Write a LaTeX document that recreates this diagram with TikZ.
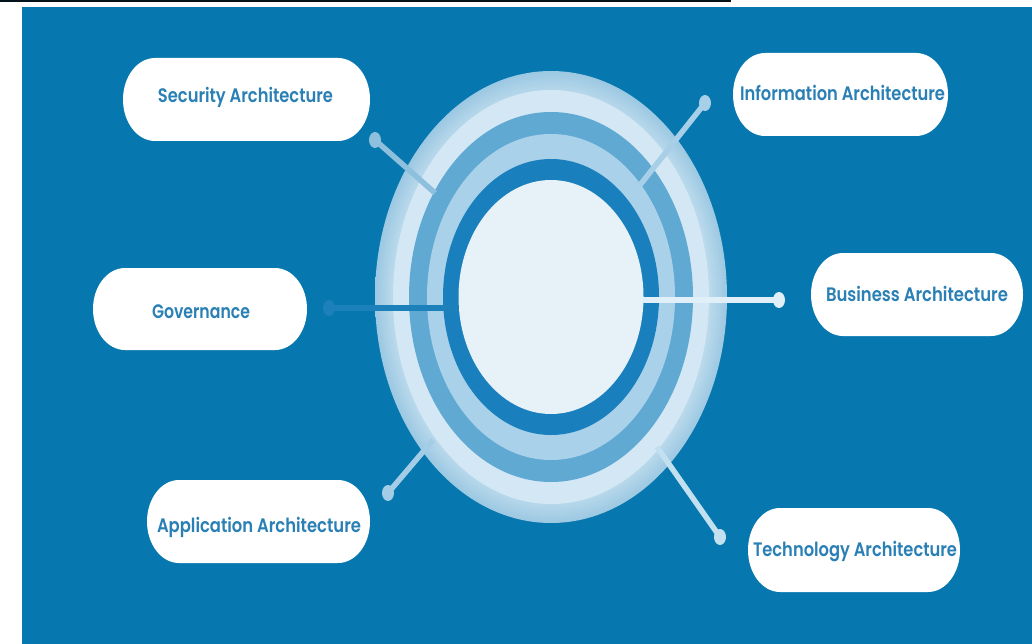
\documentclass[tikz,border=0pt]{standalone}
\usepackage{fontspec}
\usetikzlibrary{shapes.geometric}
\newfontfamily\labfont{Poppins SemiBold}
\definecolor{bgblue}{HTML}{0677AF}
\definecolor{bandAout}{HTML}{9BC8E2}
\definecolor{bandAin}{HTML}{BFDCED}
\definecolor{bandB}{HTML}{D3E8F4}
\definecolor{bandC}{HTML}{5FA9D3}
\definecolor{bandD}{HTML}{A9D1E9}
\definecolor{bandE}{HTML}{1A80BD}
\definecolor{core}{HTML}{E6F1F8}
\definecolor{labblue}{HTML}{2A80B5}
\definecolor{secc}{HTML}{8EC0DE}
\definecolor{infc}{HTML}{A7CFE7}
\definecolor{govc}{HTML}{1C80BB}
\definecolor{busc}{HTML}{E1EFF8}
\definecolor{appc}{HTML}{A3CDE6}
\definecolor{tecc}{HTML}{C3E0F0}
\pgfdeclareradialshading{outerband}{\pgfpoint{0bp}{0bp}}{color(0bp)=(bandB); color(22.2bp)=(bandAin); color(25bp)=(bandAout); color(50bp)=(bandAout)}
\pgfdeclarelayer{back}
\pgfdeclarelayer{pill}
\pgfsetlayers{back,pill,main}
\newcommand\drawpill[4]{%
  \fill[white] (#1+32,#2) -- (#3-32,#2)
    arc[start angle=90,end angle=-90,x radius=32pt,y radius={(#4-#2)/2*1pt}]
    -- (#1+32,#4)
    arc[start angle=270,end angle=90,x radius=32pt,y radius={(#4-#2)/2*1pt}] -- cycle;}
\tikzset{
  lab/.style={anchor=base,text=labblue,inner sep=0pt,font=\labfont\fontsize{19.5}{20}\selectfont},
  dotmark/.style={ellipse,minimum width=12pt,minimum height=16pt,inner sep=0pt},
  conn/.style={line width=5.5pt,line cap=butt},
}
\begin{document}
\begin{tikzpicture}[x=1pt,y=-1pt]
\useasboundingbox (0,0) rectangle (1032,644);
\begin{pgfonlayer}{back}
\fill[black!85!bgblue] (0,0) rectangle (731,2.5);
\fill[bgblue] (22,7) rectangle (1032,644);
\end{pgfonlayer}
\begin{pgfonlayer}{pill}
\drawpill{123}{58}{370}{141}
\drawpill{733}{53}{948}{136}
\drawpill{93}{268}{307}{350}
\drawpill{811}{253}{1023}{336}
\drawpill{147}{480}{370}{563}
\drawpill{748}{508}{960}{592}
\end{pgfonlayer}
% rings
\coordinate (c) at (551,297);
\shade[shading=outerband] (c) ellipse[x radius=176pt,y radius=226pt];
\fill[bandB] (c) ellipse[x radius=158pt,y radius=207pt];
\fill[bandC] (c) ellipse[x radius=142pt,y radius=185pt];
\fill[bandD] (c) ellipse[x radius=124pt,y radius=163pt];
\fill[bandE] (c) ellipse[x radius=108pt,y radius=138pt];
\fill[core] (c) ellipse[x radius=92.5pt,y radius=117pt];
% connectors
\node[dotmark,fill=secc] (sdot) at (375,140) {};
\coordinate (send) at (435,193);
\draw[conn,secc] (sdot.center) -- (send);
\node[dotmark,fill=infc] (idot) at (705,103) {};
\coordinate (iend) at (640,185);
\draw[conn,infc] (idot.center) -- (iend);
\node[dotmark,fill=govc] (gdot) at (329,308) {};
\coordinate (gend) at (459,308);
\draw[conn,govc,line width=6pt] (gdot.center) -- (gend);
\node[dotmark,fill=busc] (bdot) at (779,300) {};
\coordinate (bend) at (642,300);
\draw[conn,busc,line width=6pt] (bend) -- (bdot.center);
\node[dotmark,fill=appc] (adot) at (388,493) {};
\coordinate (aend) at (433,440);
\draw[conn,appc] (adot.center) -- (aend);
\node[dotmark,fill=tecc] (tdot) at (720,537) {};
\coordinate (tend) at (657,447);
\draw[conn,tecc] (tdot.center) -- (tend);
% labels
\node[lab] (sec) at (245.5,103) {\resizebox{175pt}{\height}{Security Architecture}};
\node[lab] (inf) at (842.5,100.7) {\resizebox{205pt}{\height}{Information Architecture}};
\node[lab] (gov) at (201,318) {\resizebox{98pt}{\height}{Governance}};
\node[lab] (bus) at (917,301.5) {\resizebox{182pt}{\height}{Business Architecture}};
\node[lab] (app) at (259,532.5) {\resizebox{204pt}{\height}{Application Architecture}};
\node[lab] (tec) at (855,556) {\resizebox{204pt}{\height}{Technology Architecture}};
\end{tikzpicture}
\end{document}
